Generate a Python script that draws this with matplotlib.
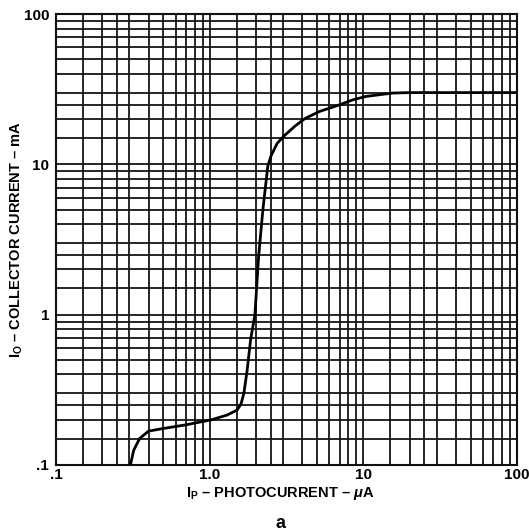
import matplotlib
matplotlib.use("Agg")
import matplotlib.pyplot as plt
from matplotlib.ticker import FixedLocator, NullFormatter

# Data
photocurrent_uA = [0.305, 0.32, 0.35, 0.40, 0.50, 0.70, 1.03, 1.30, 1.51, 1.60,
                   1.67, 1.75, 1.85, 1.97, 2.08, 2.22, 2.39, 2.51, 2.75, 3.08,
                   3.6, 4.18, 5.2, 6.93, 8.5, 10.4, 15.6, 20.0, 50.0, 100.0]
collector_mA = [0.100, 0.125, 0.150, 0.168, 0.175, 0.185, 0.200, 0.215, 0.232, 0.255,
                0.300, 0.42, 0.69, 1.0, 2.4, 5.0, 9.75, 11.4, 13.8, 15.6,
                18.0, 20.2, 22.5, 24.8, 26.8, 28.3, 29.8, 30.0, 30.0, 30.0]

x_major = [0.1, 1.0, 10, 100]
x_labels = ['.1', '1.0', '10', '100']
y_major = [0.1, 1, 10, 100]
y_labels = ['.1', '1', '10', '100']
minor_mult = [1.5, 2, 2.5, 3, 4, 5, 6, 7, 8, 9]

plt.rcParams['font.family'] = ['Liberation Sans', 'DejaVu Sans']
plt.rcParams['font.weight'] = 'bold'
plt.rcParams['mathtext.fontset'] = 'custom'
plt.rcParams['mathtext.bf'] = 'Liberation Sans:bold'
plt.rcParams['mathtext.rm'] = 'Liberation Sans:bold'
plt.rcParams['mathtext.it'] = 'Liberation Sans:bold:italic'

fig = plt.figure(figsize=(5.29, 5.31), dpi=100)
ax = fig.add_axes([56/529, 1-465/531, (517-56)/529, (465-14)/531])
ax.set_xscale('log')
ax.set_yscale('log')
ax.set_xlim(0.1, 100)
ax.set_ylim(0.1, 100)

minors = []
for d in [0.1, 1, 10]:
    minors += [d*m for m in minor_mult]
ax.xaxis.set_major_locator(FixedLocator(x_major))
ax.yaxis.set_major_locator(FixedLocator(y_major))
ax.xaxis.set_minor_locator(FixedLocator(minors))
ax.yaxis.set_minor_locator(FixedLocator(minors))
ax.xaxis.set_minor_formatter(NullFormatter())
ax.yaxis.set_minor_formatter(NullFormatter())
ax.set_xticklabels(x_labels)
ax.set_yticklabels(y_labels)
ax.tick_params(which='both', length=0, labelsize=11)
ax.tick_params(axis='x', pad=2)
ax.tick_params(axis='y', pad=5)
for lab in ax.get_xticklabels() + ax.get_yticklabels():
    lab.set_fontweight('bold')

ax.grid(True, which='both', color='#151515', linewidth=1.3)
for s in ax.spines.values():
    s.set_linewidth(1.5)
    s.set_color('#111111')

ax.plot(photocurrent_uA, collector_mA, color='black', linewidth=2.0, zorder=5)

ax.set_xlabel(r'$\mathbf{I_P}$ – PHOTOCURRENT – $\mu$A', fontsize=10.5, fontweight='bold')
ax.set_ylabel(r'$\mathbf{I_O}$ – COLLECTOR CURRENT – mA', fontsize=10.5, fontweight='bold')
ax.xaxis.set_label_coords((280-56)/461, (465-494)/451)
ax.yaxis.set_label_coords((17-56)/461, 0.5)
ax.xaxis.label.set_va('center')
ax.yaxis.label.set_va('center')
fig.text(280/529, 1-524/531, 'a', ha='center', va='center', fontsize=13, fontweight='bold')

fig.savefig('out.png', dpi=100)
